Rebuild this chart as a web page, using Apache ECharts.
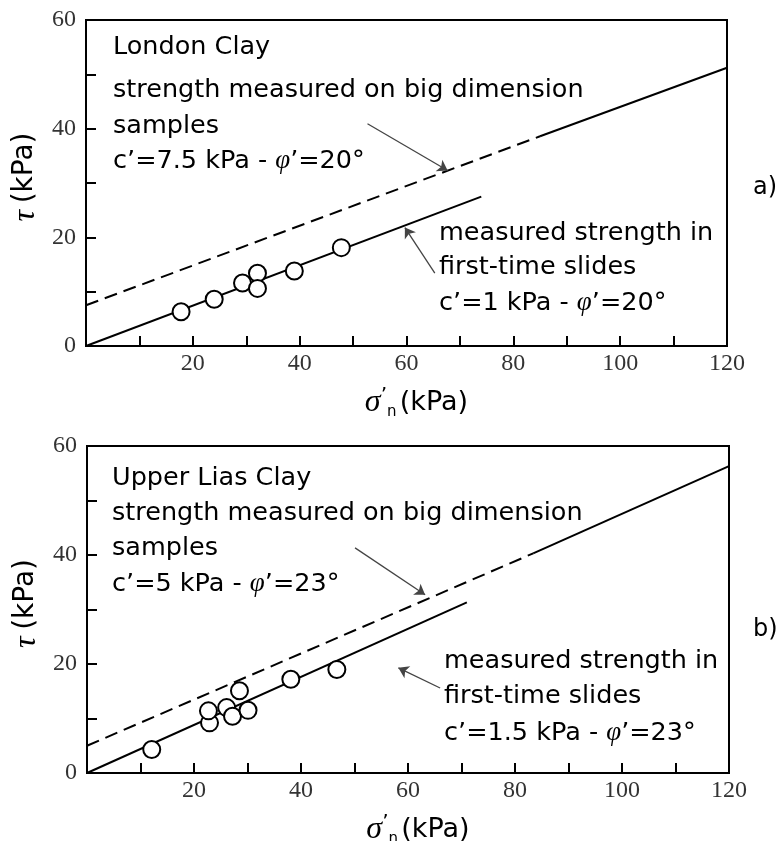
<!DOCTYPE html>
<html><head><meta charset="utf-8">
<script src="https://cdn.jsdelivr.net/npm/echarts@6/dist/echarts.min.js"></script>
<style>html,body{margin:0;padding:0;background:#fff}#c{width:780px;height:841px}</style>
</head><body><div id="c"></div>
<script>
// ---- tick labels ----
const xTickLabels = [20, 40, 60, 80, 100, 120];
const yTickLabels = [0, 20, 40, 60];

// ---- panel a) London Clay ----
const aPointsX = [17.8, 24.0, 29.3, 32.1, 32.1, 39.0, 47.8];
const aPointsY = [6.3, 8.6, 11.6, 13.4, 10.6, 13.8, 18.1];
const aBigDashedX = [0, 85];
const aBigDashedY = [7.5, 38.6];
const aBigSolidX = [85, 120];
const aBigSolidY = [38.6, 51.2];
const aFirstX = [0, 74];
const aFirstY = [0, 27.5];
const aArrowBigX = [52.7, 67.7];
const aArrowBigY = [40.9, 32.3];
const aArrowFirstX = [65.3, 59.7];
const aArrowFirstY = [13.4, 21.8];

// ---- panel b) Upper Lias Clay ----
const bPointsX = [12.1, 22.9, 22.7, 26.1, 27.2, 28.5, 30.1, 38.1, 46.7];
const bPointsY = [4.3, 9.2, 11.4, 12.0, 10.4, 15.1, 11.5, 17.2, 19.0];
const bBigDashedX = [0, 83.4];
const bBigDashedY = [5, 40.3];
const bBigSolidX = [83.4, 120];
const bBigSolidY = [40.3, 56.3];
const bFirstX = [0, 71];
const bFirstY = [0, 31.3];
const bArrowBigX = [50.1, 63.2];
const bArrowBigY = [41.3, 32.7];
const bArrowFirstX = [66.0, 58.2];
const bArrowFirstY = [15.6, 19.3];

const pairs = (xs, ys) => xs.map((x, i) => [x, ys[i]]);
const SANS = 'DejaVu Sans';
const SERIF = 'Liberation Serif';

function xAxisFor(idx) {
  return {
    gridIndex: idx, type: 'value', min: 0, max: 120, interval: 10,
    axisLine: { show: true, onZero: false, lineStyle: { color: '#000', width: 2 } },
    axisTick: { show: true, inside: true, length: 10, lineStyle: { color: '#000', width: 2 } },
    splitLine: { show: false },
    axisLabel: {
      formatter: v => (xTickLabels.indexOf(v) >= 0 ? String(v) : ''),
      fontFamily: SERIF, fontSize: 24, color: '#333', margin: 6
    },
    name: '{s|σ}{q|’}{n|n} {k|(kPa)}',
    nameLocation: 'middle', nameGap: 39,
    nameTextStyle: {
      padding: [0, 0, 0, 20],
      rich: {
        s: { fontFamily: SERIF, fontStyle: 'italic', fontSize: 32, color: '#000' },
        q: { fontFamily: SANS, fontSize: 20, color: '#000', padding: [0, 0, 14, 0] },
        n: { fontFamily: SANS, fontSize: 15, color: '#000', padding: [20, 0, 0, 0] },
        k: { fontFamily: SANS, fontSize: 27, color: '#000' }
      }
    }
  };
}
function yAxisFor(idx) {
  return {
    gridIndex: idx, type: 'value', min: 0, max: 60, interval: 10,
    axisLine: { show: true, onZero: false, lineStyle: { color: '#000', width: 2 } },
    axisTick: { show: true, inside: true, length: 10, lineStyle: { color: '#000', width: 2 } },
    splitLine: { show: false },
    axisLabel: {
      formatter: v => (yTickLabels.indexOf(v) >= 0 ? String(v) : ''),
      fontFamily: SERIF, fontSize: 24, color: '#333', margin: 10
    },
    name: '{t|τ}  {k|(kPa)}',
    nameLocation: 'middle', nameGap: 44, nameRotate: 90,
    nameTextStyle: {
      padding: [0, 0, 0, 12],
      rich: {
        t: { fontFamily: SERIF, fontStyle: 'italic', fontSize: 32, color: '#000' },
        k: { fontFamily: SANS, fontSize: 28, color: '#000' }
      }
    }
  };
}

function panelSeries(idx, dX, dY, sX, sY, fX, fY, pX, pY, a1X, a1Y, a2X, a2Y) {
  const base = { xAxisIndex: idx, yAxisIndex: idx, silent: true, animation: false };
  return [
    Object.assign({}, base, {
      type: 'line', data: pairs(dX, dY), showSymbol: false, symbol: 'none',
      lineStyle: { color: '#000', width: 2, type: [13, 7] }
    }),
    Object.assign({}, base, {
      type: 'line', data: pairs(sX, sY), showSymbol: false, symbol: 'none',
      lineStyle: { color: '#000', width: 2 }
    }),
    Object.assign({}, base, {
      type: 'line', data: pairs(fX, fY), showSymbol: false, symbol: 'none',
      lineStyle: { color: '#000', width: 2 }
    }),
    Object.assign({}, base, {
      type: 'scatter', data: pairs(pX, pY), symbol: 'circle', symbolSize: 17, z: 5,
      itemStyle: { color: '#fff', borderColor: '#000', borderWidth: 2, opacity: 1 },
      markLine: {
        silent: true, animation: false, symbol: ['none', 'arrow'], symbolSize: 10,
        label: { show: false },
        lineStyle: { color: '#444', width: 1.3, type: 'solid' },
        emphasis: { disabled: true },
        data: [
          [{ coord: [a1X[0], a1Y[0]] }, { coord: [a1X[1], a1Y[1]] }],
          [{ coord: [a2X[0], a2Y[0]] }, { coord: [a2X[1], a2Y[1]] }]
        ]
      }
    })
  ];
}

function txt(x, y, text, size, rich) {
  return {
    type: 'text', x: x, y: y, silent: true,
    style: {
      text: text, fill: '#000', font: size + 'px "' + SANS + '"',
      verticalAlign: 'middle', align: 'left',
      rich: rich || {}
    }
  };
}
const phiRich = {
  p: { fontFamily: SERIF, fontStyle: 'italic', fontSize: 27, color: '#000' },
  r: { fontFamily: SANS, fontSize: 25.5, color: '#000' }
};

const chart = echarts.init(document.getElementById('c'), null, { renderer: 'canvas' });
chart.setOption({
  animation: false,
  backgroundColor: '#fff',
  grid: [
    { left: 86, top: 20, width: 641, height: 326, show: true, borderColor: '#000', borderWidth: 2,
      backgroundColor: 'transparent', containLabel: false, outerBoundsMode: 'none' },
    { left: 87, top: 446, width: 642, height: 327, show: true, borderColor: '#000', borderWidth: 2,
      backgroundColor: 'transparent', containLabel: false, outerBoundsMode: 'none' }
  ],
  xAxis: [xAxisFor(0), xAxisFor(1)],
  yAxis: [yAxisFor(0), yAxisFor(1)],
  series: [].concat(
    panelSeries(0, aBigDashedX, aBigDashedY, aBigSolidX, aBigSolidY, aFirstX, aFirstY,
      aPointsX, aPointsY, aArrowBigX, aArrowBigY, aArrowFirstX, aArrowFirstY),
    panelSeries(1, bBigDashedX, bBigDashedY, bBigSolidX, bBigSolidY, bFirstX, bFirstY,
      bPointsX, bPointsY, bArrowBigX, bArrowBigY, bArrowFirstX, bArrowFirstY)
  ),
  graphic: [
    txt(113, 47, 'London Clay', 25.5),
    txt(113, 90, 'strength measured on big dimension', 25.5),
    txt(113, 126, 'samples', 25.5),
    txt(113, 161, '{r|c’=7.5 kPa - }{p|φ}{r|’=20°}', 25.5, phiRich),
    txt(439, 233, 'measured strength in', 25.5),
    txt(439, 267, 'first-time slides', 25.5),
    txt(439, 303, '{r|c’=1 kPa - }{p|φ}{r|’=20°}', 25.5, phiRich),
    txt(753, 188, 'a)', 24),

    txt(112, 478, 'Upper Lias Clay', 25.5),
    txt(112, 513, 'strength measured on big dimension', 25.5),
    txt(112, 548, 'samples', 25.5),
    txt(112, 584, '{r|c’=5 kPa - }{p|φ}{r|’=23°}', 25.5, phiRich),
    txt(444, 661, 'measured strength in', 25.5),
    txt(444, 696, 'first-time slides', 25.5),
    txt(444, 733, '{r|c’=1.5 kPa - }{p|φ}{r|’=23°}', 25.5, phiRich),
    txt(753, 630, 'b)', 24)
  ]
});
</script>
</body></html>
